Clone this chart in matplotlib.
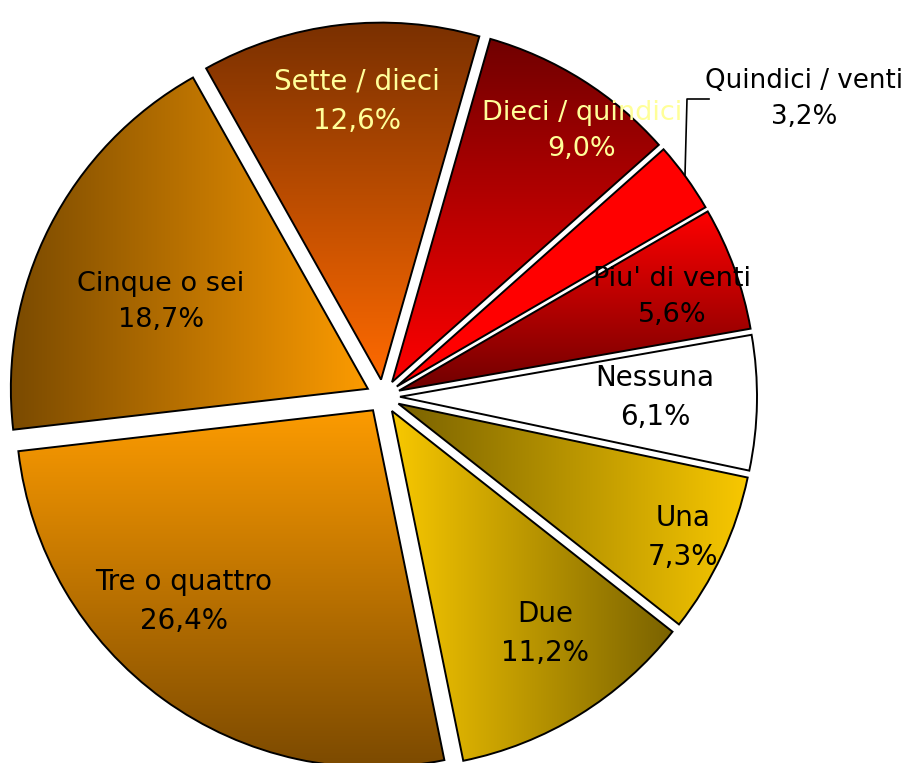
import numpy as np
import matplotlib
matplotlib.use("Agg")
import matplotlib.pyplot as plt
from matplotlib.colors import LinearSegmentedColormap

# ---- data ----
categories = ["Nessuna", "Una", "Due", "Tre o quattro", "Cinque o sei",
              "Sette / dieci", "Dieci / quindici", "Quindici / venti", "Piu' di venti"]
values = [6.1, 7.3, 11.2, 26.4, 18.7, 12.6, 9.0, 3.2, 5.6]
pct_labels = ["6,1%", "7,3%", "11,2%", "26,4%", "18,7%", "12,6%", "9,0%", "3,2%", "5,6%"]

# ---- styles ----
# (direction, start colour, end colour): 'h' = left->right, 'v' = top->bottom
fills = [
    ("solid", "#ffffff", "#ffffff"),
    ("h", "#7a6200", "#f8c800"),
    ("h", "#f8c800", "#7a6200"),
    ("v", "#fc9b00", "#7c4a00"),
    ("h", "#7a4a00", "#fc9b00"),
    ("v", "#7a3000", "#ff6a00"),
    ("v", "#700000", "#ff0000"),
    ("solid", "#ff0000", "#ff0000"),
    ("v", "#ff0000", "#700000"),
]
text_colors = ["black", "black", "black", "black", "black",
               "#ffff99", "#ffff99", "black", "black"]
# label centres in pixel coordinates (x, y from top) and font sizes
label_pos = [(655, 397), (683, 537), (545, 634), (184, 601), (161, 302),
             (357, 101), (582, 131), (804, 99), (672, 297)]
label_size = [20, 20, 20, 20, 19.5, 20, 19.5, 18.8, 19.5]

W, H = 907, 763
fig = plt.figure(figsize=(W / 100, H / 100), dpi=100)
ax = fig.add_axes([0, 0, 1, 1])

cx, cy = 383, H - 396.5
R = 357
d = 17

wedges, _ = ax.pie(values, startangle=10, counterclock=False,
                   explode=[d] * len(values), radius=R, center=(cx, cy),
                   wedgeprops=dict(edgecolor="black", linewidth=1.4,
                                   facecolor="none"),
                   frame=True)

for w, (kind, c0, c1) in zip(wedges, fills):
    w.set_facecolor("none")
    w.set_zorder(3)
    ext = w.get_path().get_extents()
    x0, y0, x1, y1 = ext.x0, ext.y0, ext.x1, ext.y1
    cmap = LinearSegmentedColormap.from_list("g", [c0, c1])
    if kind == "h":
        arr = np.linspace(0, 1, 256)[None, :]
        origin = "lower"
    elif kind == "v":
        arr = np.linspace(0, 1, 256)[:, None]
        origin = "upper"
    else:
        arr = np.zeros((2, 2))
        origin = "lower"
    im = ax.imshow(arr, cmap=cmap, vmin=0, vmax=1, extent=(x0, x1, y0, y1),
                   origin=origin, aspect="auto", zorder=2, interpolation="bilinear")
    im.set_clip_path(w)

ax.set_xlim(0, W)
ax.set_ylim(0, H)
ax.set_aspect("equal")
ax.axis("off")

for name, pct, (px, py), tc, fs in zip(categories, pct_labels, label_pos,
                                       text_colors, label_size):
    ax.text(px, H - py, f"{name}\n{pct}", ha="center", va="center",
            multialignment="center", fontsize=fs, color=tc,
            family="DejaVu Sans", linespacing=1.5, zorder=5)

# leader line for "Quindici / venti"
ax.plot([709, 687, 685], [H - 99, H - 99, H - 175], color="black", lw=1.2, zorder=5)

fig.savefig("out.png", dpi=100)
